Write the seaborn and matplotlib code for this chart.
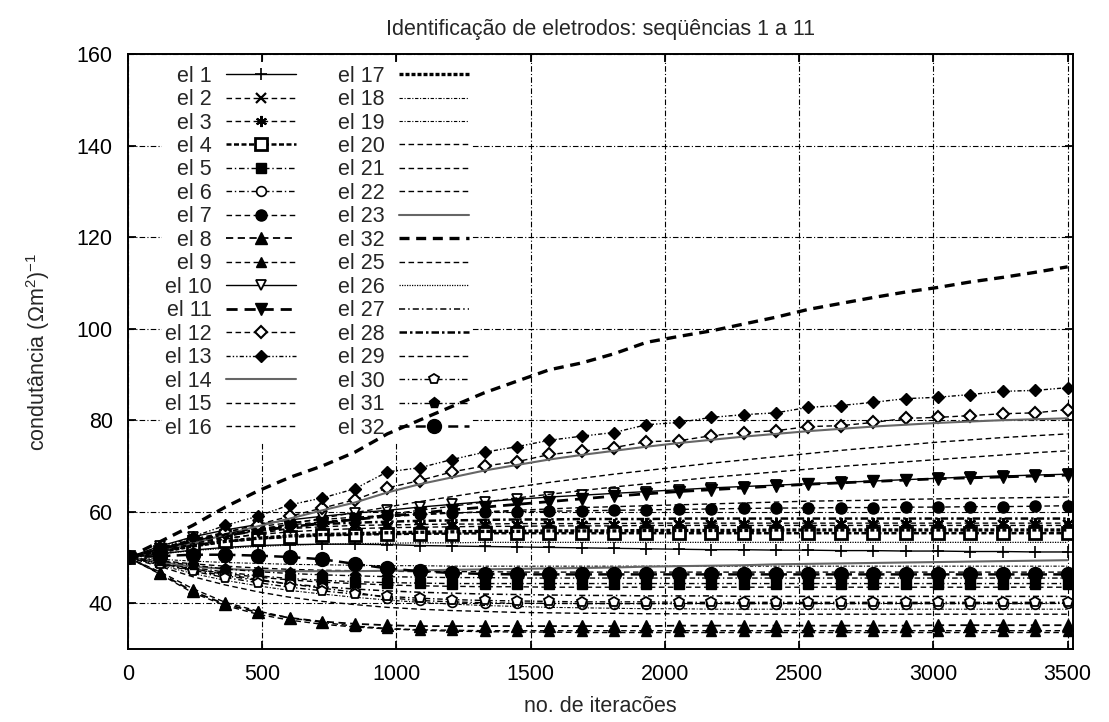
import numpy as np
import pandas as pd
import matplotlib
matplotlib.use("Agg")
import matplotlib.pyplot as plt
import seaborn as sns

sns.set_theme(style="ticks")
plt.rcParams['font.family'] = ['Liberation Sans', 'DejaVu Sans']
plt.rcParams['mathtext.fontset'] = 'custom'
plt.rcParams['mathtext.rm'] = 'Liberation Sans'
plt.rcParams['mathtext.it'] = 'Liberation Sans:italic'

# ---------------- data ----------------
iteracoes = [0, 121, 241, 362, 483, 603, 724, 845, 966, 1086, 1207, 1328, 1448, 1569, 1690,
             1810, 1931, 2052, 2172, 2293, 2414, 2534, 2655, 2776, 2897, 3017, 3138, 3259, 3379, 3500]

labels = ["el 1", "el 2", "el 3", "el 4", "el 5", "el 6", "el 7", "el 8", "el 9", "el 10",
          "el 11", "el 12", "el 13", "el 14", "el 15", "el 16", "el 17", "el 18", "el 19", "el 20",
          "el 21", "el 22", "el 23", "el 32", "el 25", "el 26", "el 27", "el 28", "el 29", "el 30",
          "el 31", "el 32"]

el1 = [50, 50.8, 51.6, 52.2, 52.6, 52.8, 52.9, 52.9, 52.8, 52.6, 52.5, 52.4, 52.3, 52.2, 52.1,
       52.0, 51.9, 51.8, 51.7, 51.7, 51.6, 51.6, 51.5, 51.5, 51.4, 51.4, 51.3, 51.3, 51.2, 51.2]
el2 = [50, 51.5, 53.0, 54.2, 55.0, 55.6, 56.0, 56.3, 56.5, 56.6, 56.7, 56.8, 56.8, 56.9, 56.9,
       56.9, 57.0, 57.0, 57.0, 57.0, 57.0, 57.0, 57.0, 57.0, 57.0, 57.0, 57.0, 57.0, 57.0, 57.0]
el3 = [50, 51.8, 53.5, 54.8, 55.7, 56.3, 56.7, 57.0, 57.1, 57.2, 57.3, 57.3, 57.4, 57.4, 57.4,
       57.4, 57.5, 57.5, 57.5, 57.5, 57.5, 57.5, 57.5, 57.5, 57.5, 57.5, 57.5, 57.5, 57.5, 57.5]
el4 = [50, 51.3, 52.6, 53.5, 54.1, 54.5, 54.8, 55.0, 55.1, 55.2, 55.2, 55.3, 55.3, 55.3, 55.3,
       55.3, 55.3, 55.3, 55.3, 55.3, 55.3, 55.3, 55.3, 55.3, 55.3, 55.3, 55.3, 55.3, 55.3, 55.3]
el5 = [50, 49.0, 47.8, 46.8, 46.0, 45.4, 45.0, 44.7, 44.5, 44.4, 44.3, 44.3, 44.3, 44.3, 44.3,
       44.3, 44.3, 44.3, 44.3, 44.3, 44.3, 44.3, 44.3, 44.3, 44.3, 44.3, 44.3, 44.3, 44.3, 44.3]
el6 = [50, 49.0, 47.5, 46.3, 45.2, 44.2, 43.3, 42.4, 41.2, 40.6, 40.3, 40.1, 40.0, 40.0, 39.9,
       39.9, 39.9, 39.9, 39.9, 39.9, 39.9, 39.9, 39.9, 39.9, 39.9, 39.9, 39.9, 39.9, 39.9, 40.0]
el7 = [50, 52.0, 54.0, 55.5, 56.7, 57.6, 58.3, 58.8, 59.2, 59.5, 59.7, 59.9, 60.0, 60.1, 60.2,
       60.3, 60.4, 60.5, 60.6, 60.7, 60.8, 60.8, 60.9, 60.9, 61.0, 61.0, 61.1, 61.1, 61.2, 61.3]
el8 = [50, 46.5, 42.6, 39.8, 38.0, 36.8, 36.0, 35.5, 35.2, 35.0, 35.0, 35.0, 35.0, 35.0, 35.0,
       35.0, 35.0, 35.1, 35.1, 35.1, 35.1, 35.1, 35.1, 35.1, 35.1, 35.2, 35.2, 35.2, 35.2, 35.2]
el9 = [50, 46.8, 43.2, 40.2, 38.3, 36.8, 35.8, 35.0, 34.5, 34.2, 34.1, 34.0, 34.0, 34.0, 34.0,
       34.0, 34.0, 34.0, 34.0, 34.0, 34.0, 34.0, 34.0, 34.0, 34.0, 34.0, 34.0, 34.0, 34.0, 34.0]
el10 = [50, 52.5, 54.5, 56.0, 57.2, 58.2, 59.0, 59.7, 60.3, 61.0, 61.6, 62.2, 62.7, 63.2, 63.6,
        64.0, 64.4, 64.8, 65.2, 65.5, 65.8, 66.1, 66.4, 66.7, 67.0, 67.3, 67.6, 67.8, 68.0, 68.2]
el11 = [50, 51.8, 53.5, 54.8, 55.8, 56.7, 57.5, 58.3, 59.0, 59.7, 60.4, 61.0, 61.6, 62.2, 62.8,
        63.4, 63.9, 64.4, 64.8, 65.2, 65.6, 66.0, 66.3, 66.6, 66.9, 67.2, 67.4, 67.6, 67.8, 68.0]
el12 = [50, 51.5, 53.5, 55.5, 57.2, 59.0, 60.8, 62.6, 65.2, 66.8, 68.7, 70.0, 70.9, 72.5, 73.2,
        74.0, 75.3, 75.5, 76.6, 77.3, 77.7, 78.6, 78.8, 79.5, 80.4, 80.6, 81.0, 81.4, 81.6, 82.3]
el13 = [50, 52.0, 54.5, 57.0, 59.0, 61.5, 63.0, 65.0, 68.7, 69.6, 71.4, 73.0, 74.2, 75.6, 76.5,
        77.3, 79.0, 79.5, 80.6, 81.2, 81.6, 82.8, 83.2, 83.9, 84.7, 85.0, 85.6, 86.3, 86.5, 87.1]
el14 = [50, 51.3, 53.0, 55.0, 56.8, 58.5, 60.3, 62.0, 64.2, 66.0, 67.5, 69.0, 70.2, 71.4, 72.4,
        73.3, 74.2, 75.0, 75.7, 76.4, 77.0, 77.6, 78.1, 78.6, 79.0, 79.4, 79.7, 80.0, 80.2, 80.4]
el15 = [50, 51.5, 53.0, 54.5, 56.0, 57.3, 58.6, 59.8, 61.0, 62.2, 63.3, 64.4, 65.4, 66.4, 67.3,
        68.2, 69.0, 69.8, 70.6, 71.3, 72.0, 72.7, 73.4, 74.0, 74.6, 75.2, 75.7, 76.2, 76.6, 77.0]
el16 = [50, 51.3, 52.7, 54.0, 55.2, 56.3, 57.4, 58.4, 59.4, 60.3, 61.2, 62.1, 63.0, 63.8, 64.6,
        65.4, 66.1, 66.8, 67.5, 68.1, 68.7, 69.3, 69.9, 70.4, 70.9, 71.4, 71.9, 72.4, 72.9, 73.3]
el17 = [50, 51.2, 52.5, 53.5, 54.2, 54.7, 55.0, 55.2, 55.4, 55.5, 55.6, 55.7, 55.7, 55.8, 55.8,
        55.8, 55.9, 55.9, 55.9, 55.9, 56.0, 56.0, 56.0, 56.0, 56.0, 56.0, 56.0, 56.0, 56.0, 56.0]
el18 = [50, 49.6, 49.2, 48.9, 48.7, 48.5, 48.4, 48.3, 48.2, 48.2, 48.1, 48.1, 48.1, 48.1, 48.1,
        48.1, 48.1, 48.1, 48.1, 48.1, 48.1, 48.1, 48.1, 48.1, 48.1, 48.1, 48.1, 48.1, 48.1, 48.1]
el19 = [50, 48.3, 46.5, 45.0, 43.8, 42.8, 42.0, 41.3, 40.7, 40.2, 39.8, 39.5, 39.3, 39.1, 39.0,
        38.9, 38.8, 38.8, 38.7, 38.7, 38.7, 38.7, 38.7, 38.7, 38.7, 38.7, 38.7, 38.7, 38.7, 38.7]
el20 = [50, 52.0, 53.8, 55.2, 56.3, 57.1, 57.8, 58.4, 58.9, 59.3, 59.7, 60.0, 60.3, 60.6, 60.9,
        61.1, 61.3, 61.5, 61.7, 61.9, 62.1, 62.3, 62.4, 62.5, 62.7, 62.8, 62.9, 63.0, 63.1, 63.2]
el21 = [50, 49.3, 48.6, 48.1, 47.7, 47.4, 47.2, 47.1, 47.0, 46.9, 46.9, 46.9, 46.8, 46.8, 46.8,
        46.8, 46.8, 46.8, 46.8, 46.8, 46.8, 46.8, 46.8, 46.8, 46.8, 46.8, 46.8, 46.8, 46.8, 46.8]
el22 = [50, 48.8, 47.5, 46.5, 45.7, 45.1, 44.6, 44.3, 44.0, 43.8, 43.7, 43.6, 43.6, 43.5, 43.5,
        43.5, 43.5, 43.5, 43.5, 43.5, 43.5, 43.5, 43.5, 43.5, 43.5, 43.5, 43.5, 43.5, 43.5, 43.5]
el23 = [50, 49.0, 48.0, 47.5, 47.2, 47.0, 47.0, 47.0, 47.1, 47.2, 47.3, 47.4, 47.5, 47.6, 47.7,
        47.8, 48.0, 48.1, 48.2, 48.3, 48.5, 48.6, 48.7, 48.8, 48.9, 49.0, 49.1, 49.2, 49.3, 49.4]
el24 = [50, 53.5, 57.0, 61.0, 64.5, 67.5, 70.0, 73.0, 77.0, 80.0, 83.0, 86.0, 88.5, 91.0, 92.5,
        94.5, 97.0, 98.3, 99.5, 101.0, 102.5, 104.2, 105.5, 106.8, 108.0, 109.0, 110.2, 111.2, 112.3, 113.5]
el25 = [50, 48.0, 45.8, 44.0, 42.5, 41.3, 40.4, 39.7, 39.1, 38.7, 38.4, 38.2, 38.0, 37.9, 37.8,
        37.8, 37.7, 37.7, 37.7, 37.6, 37.6, 37.6, 37.6, 37.6, 37.6, 37.6, 37.6, 37.6, 37.6, 37.6]
el26 = [50, 50.8, 51.5, 52.0, 52.4, 52.7, 52.9, 53.0, 53.1, 53.2, 53.2, 53.3, 53.3, 53.3, 53.3,
        53.3, 53.3, 53.3, 53.3, 53.3, 53.3, 53.3, 53.3, 53.3, 53.3, 53.3, 53.3, 53.3, 53.3, 53.3]
el27 = [50, 48.7, 47.2, 46.0, 45.0, 44.2, 43.6, 43.1, 42.7, 42.4, 42.2, 42.0, 41.9, 41.8, 41.7,
        41.7, 41.6, 41.6, 41.6, 41.5, 41.5, 41.5, 41.5, 41.5, 41.5, 41.5, 41.5, 41.5, 41.5, 41.5]
el28 = [50, 51.8, 53.6, 55.0, 56.0, 56.8, 57.3, 57.6, 57.8, 58.0, 58.1, 58.2, 58.3, 58.3, 58.4,
        58.4, 58.4, 58.5, 58.5, 58.5, 58.5, 58.5, 58.5, 58.5, 58.5, 58.5, 58.5, 58.5, 58.5, 58.5]
el29 = [50, 46.3, 42.3, 39.5, 37.6, 36.3, 35.4, 34.8, 34.4, 34.1, 33.9, 33.8, 33.7, 33.7, 33.6,
        33.6, 33.6, 33.6, 33.6, 33.6, 33.6, 33.6, 33.6, 33.6, 33.6, 33.6, 33.6, 33.6, 33.6, 33.6]
el30 = [50, 48.6, 47.0, 45.6, 44.5, 43.5, 42.7, 42.0, 41.5, 41.1, 40.8, 40.6, 40.5, 40.4, 40.3,
        40.3, 40.3, 40.2, 40.2, 40.2, 40.2, 40.2, 40.2, 40.2, 40.2, 40.2, 40.2, 40.2, 40.2, 40.2]
el31 = [50, 49.2, 48.3, 47.5, 46.9, 46.5, 46.2, 46.0, 45.8, 45.7, 45.6, 45.6, 45.5, 45.5, 45.5,
        45.5, 45.5, 45.5, 45.5, 45.5, 45.5, 45.5, 45.5, 45.5, 45.5, 45.5, 45.5, 45.5, 45.5, 45.5]
el32 = [50, 50.3, 50.6, 50.6, 50.4, 50.1, 49.6, 48.6, 47.6, 47.0, 46.6, 46.4, 46.3, 46.3, 46.3,
        46.3, 46.3, 46.3, 46.3, 46.3, 46.3, 46.3, 46.3, 46.3, 46.3, 46.3, 46.3, 46.3, 46.3, 46.3]

series = [el1, el2, el3, el4, el5, el6, el7, el8, el9, el10, el11, el12, el13, el14, el15, el16,
          el17, el18, el19, el20, el21, el22, el23, el24, el25, el26, el27, el28, el29, el30, el31, el32]

# ---------------- styles ----------------
SOLID = '-'
DASH = (0, (4, 2.5))
DASHDOT = (0, (4, 2, 1, 2))
DENSE = (0, (2, 1))
FINEDD = (0, (3, 1.5, 1, 1.5))
DOTTED = (0, (1, 1))
DDD = (0, (3, 1.5, 1, 1.5, 1, 1.5))

asterisk = (6, 2, 0)
W = 'white'
K = 'black'
# (linestyle, lw, color, marker, markersize, markerfacecolor, mew)
styles = [
    (SOLID, 1.0, K, '+', 9, K, 1.2),
    (DASH, 1.0, K, 'x', 6.5, K, 1.6),
    (DASH, 1.0, K, asterisk, 8, K, 1.5),
    (DENSE, 1.8, K, 's', 8, W, 2.0),
    (DASHDOT, 1.0, K, 's', 7.5, K, 1.0),
    (DASHDOT, 1.0, K, 'o', 7, W, 1.2),
    (DASH, 1.0, K, 'o', 8, K, 1.0),
    (DASH, 1.3, K, '^', 8.5, K, 1.0),
    (DASH, 1.0, K, '^', 7.5, K, 1.0),
    (SOLID, 1.0, K, 'v', 7.5, W, 1.3),
    (DASH, 2.0, K, 'v', 8, K, 1.0),
    (DASH, 1.0, K, 'D', 6.5, W, 1.5),
    (DDD, 1.0, K, 'D', 6.5, K, 1.0),
    (SOLID, 1.5, '0.4', None, 0, K, 1.0),
    (DASH, 1.0, K, None, 0, K, 1.0),
    (DASH, 1.0, K, None, 0, K, 1.0),
    ((0, (1.2, 0.6)), 2.4, K, None, 0, K, 1.0),
    (FINEDD, 0.8, K, None, 0, K, 1.0),
    (FINEDD, 0.8, K, None, 0, K, 1.0),
    (DASH, 1.0, K, None, 0, K, 1.0),
    (DASH, 1.0, K, None, 0, K, 1.0),
    (DASH, 1.0, K, None, 0, K, 1.0),
    (SOLID, 1.5, '0.4', None, 0, K, 1.0),
    ((0, (3, 2)), 2.4, K, None, 0, K, 1.0),
    (DASH, 1.0, K, None, 0, K, 1.0),
    (DOTTED, 0.9, K, None, 0, K, 1.0),
    (DASHDOT, 1.1, K, None, 0, K, 1.0),
    ((0, (3, 1.2, 1, 1.2)), 1.8, K, None, 0, K, 1.0),
    (DASH, 1.0, K, None, 0, K, 1.0),
    (DASHDOT, 1.0, K, 'p', 7.5, W, 1.3),
    (DASHDOT, 1.0, K, 'p', 8, K, 1.0),
    (DASH, 1.8, K, 'o', 10, K, 1.0),
]

FS = 15.5

# ---------------- figure ----------------
fig = plt.figure(figsize=(11.09, 7.22), dpi=100)
ax = fig.add_axes([128 / 1109, 73 / 722, 945 / 1109, 595 / 722])
ax.set_axisbelow(True)

for lab, ys, st in zip(labels, series, styles):
    ls, lw, col, mk, ms, mfc, mew = st
    df = pd.DataFrame({"x": iteracoes, "y": ys})
    kw = dict(linestyle=ls, linewidth=lw, color=col, label=lab)
    if mk is not None:
        kw.update(marker=mk, markersize=ms, markerfacecolor=mfc,
                  markeredgecolor=K, markeredgewidth=mew)
    sns.lineplot(data=df, x="x", y="y", ax=ax, legend=False, **kw)

ax.set_xlim(0, 3520)
ax.set_ylim(30, 160)
ax.set_xticks([0, 500, 1000, 1500, 2000, 2500, 3000, 3500])
ax.set_yticks([40, 60, 80, 100, 120, 140, 160])
ax.grid(True, linestyle=(0, (5, 2, 1, 2)), linewidth=0.8, color='black')
ax.tick_params(direction='in', length=6, width=1.3, top=True, right=True,
               labelsize=FS, pad=11, colors='black')
for sp in ax.spines.values():
    sp.set_linewidth(1.4)
    sp.set_color('black')
    sp.set_zorder(3)

ax.set_xlabel("no. de iteracões", fontsize=FS, labelpad=8)
ax.set_ylabel(r"condutância (Ωm$^{2}$)$^{-1}$", fontsize=FS, labelpad=18)
ax.set_title("Identificação de eletrodos: seqüências 1 a 11", fontsize=FS, pad=14)

handles = ax.lines[:32]
leg = ax.legend(handles, labels, ncol=2, loc='upper left', bbox_to_anchor=(0.036, 0.986),
                frameon=True, facecolor='white', edgecolor='none', framealpha=1.0,
                fancybox=False, markerfirst=False, fontsize=FS, handlelength=3.25,
                handletextpad=0.65, columnspacing=1.95, labelspacing=0.115,
                borderaxespad=0, borderpad=0.15)
leg.set_zorder(1.5)

fig.savefig("out.png", dpi=100, facecolor='white')
